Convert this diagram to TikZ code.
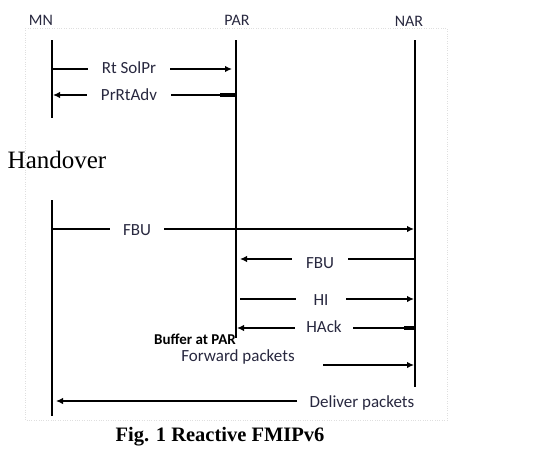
\documentclass[tikz,border=0pt]{standalone}
\usepackage{fontspec}
\setmainfont{Liberation Serif}
\newfontfamily\lblfont{Carlito}
\usetikzlibrary{arrows.meta}
\definecolor{txt}{HTML}{28283F}
\begin{document}
\begin{tikzpicture}[x=1pt,y=-1pt,
  life/.style={line width=2.6pt},
  msg/.style={line width=1.5pt,-{Latex[length=7pt,width=6.5pt]}},
  thick/.style={line width=3.4pt},
  lab/.style={font=\lblfont\fontsize{17}{19}\selectfont,text=txt,inner sep=0pt},
  head/.style={font=\lblfont\fontsize{16}{18}\selectfont,text=txt,inner sep=0pt},
  gap/.style={lab,fill=white,inner xsep=14pt,inner ysep=3pt},
]
\useasboundingbox (0,0) rectangle (546,466);
\draw[gray!25,dotted] (25,28) rectangle (447,420);

% headers
\node[head] (mn) at (41,20) {MN};
\node[head] (par) at (237,20) {PAR};
\node[head] (nar) at (409,21) {NAR};

% lifelines
\coordinate (mnA) at (52,40);
\coordinate (mnB) at (52,118);
\coordinate (mnC) at (52,200);
\coordinate (mnD) at (52,416);
\coordinate (parA) at (236,40);
\coordinate (parB) at (236,338);
\coordinate (narA) at (415,40);
\coordinate (narB) at (415,387);
\draw[life] (mnA) -- (mnB);
\draw[life] (mnC) -- (mnD);
\draw[life] (parA) -- (parB);
\draw[life] (narA) -- (narB);

% Rt SolPr
\coordinate (m1) at (52,69);
\coordinate (p1) at (236,69);
\draw[msg,shorten >=4pt] (m1) -- (p1);
\node[gap] (l1) at (129,68) {Rt SolPr};

% PrRtAdv
\coordinate (m2) at (52,95);
\coordinate (p2) at (236,95);
\coordinate (p2t) at (220,95);
\draw[msg,shorten >=1pt] (p2) -- (m2);
\draw[thick] (p2t) -- (p2);
\node[gap] (l2) at (129,95) {PrRtAdv};

% Handover
\node[font=\fontsize{25}{28}\selectfont,inner sep=0pt] (ho) at (57,160) {Handover};

% FBU MN -> NAR
\coordinate (m3) at (52,229);
\coordinate (n3) at (415,229);
\draw[msg,shorten >=1pt] (m3) -- (n3);
\node[gap,inner xsep=13pt] (l3) at (137,230) {FBU};

% FBU NAR -> PAR
\coordinate (n4) at (415,259);
\coordinate (p4) at (236,259);
\draw[msg,shorten >=4pt] (n4) -- (p4);
\node[gap,inner xsep=14pt,inner ysep=6pt] (l4) at (320,263) {FBU};

% HI
\coordinate (p5) at (236,299);
\coordinate (n5) at (415,299);
\draw[msg,shorten <=4pt,shorten >=1pt] (p5) -- (n5);
\node[gap,inner xsep=18pt] (l5) at (321,300) {HI};

% HAck
\coordinate (n6) at (415,328);
\coordinate (n6t) at (404,328);
\coordinate (p6) at (236,328);
\draw[msg,shorten >=1pt] (n6) -- (p6);
\draw[thick] (n6t) -- (n6);
\node[gap,inner xsep=11pt] (l6) at (324,327) {HAck};

% Buffer at PAR
\node[font=\lblfont\bfseries\fontsize{15}{17}\selectfont,inner sep=0pt] (buf) at (195,339) {Buffer at PAR};

% Forward packets
\node[lab] (fwd) at (238,357) {Forward packets};
\coordinate (f1) at (323,365);
\coordinate (n7) at (415,365);
\draw[msg,shorten >=1pt] (f1) -- (n7);

% Deliver packets
\node[lab] (del) at (362,403) {Deliver packets};
\coordinate (d1) at (297,401);
\coordinate (m8) at (52,401);
\draw[msg,shorten >=4pt] (d1) -- (m8);

% caption
\node[font=\bfseries\fontsize{20.5}{24}\selectfont,inner sep=0pt] (cap) at (220,437) {Fig. 1 Reactive FMIPv6};
\end{tikzpicture}
\end{document}
